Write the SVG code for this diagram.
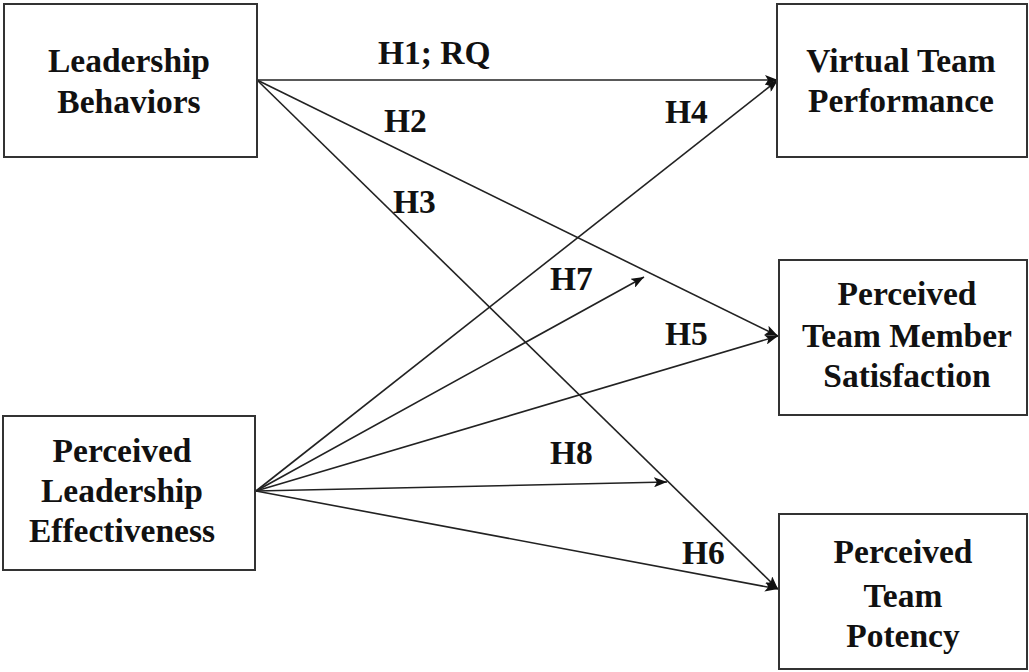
<svg xmlns="http://www.w3.org/2000/svg" width="1029" height="672" viewBox="0 0 1029 672">
<defs>
<style>
.box{fill:#fff;stroke:#333;stroke-width:2}
.t{font-family:"Liberation Serif","Times New Roman",serif;font-weight:bold;font-size:33.5px;fill:#111}
.c{text-anchor:middle}
.ln{stroke:#222;stroke-width:1.6;fill:none;marker-end:url(#ah)}
</style>
<marker id="ah" markerUnits="userSpaceOnUse" markerWidth="14" markerHeight="10" refX="13" refY="5" orient="auto">
<path d="M0,0 L13,5 L0,10 L3,5 Z" fill="#111"/>
</marker>
</defs>
<rect width="1029" height="672" fill="#fff"/>
<g id="connectors">
<line class="ln" x1="257" y1="80" x2="778" y2="80"/>
<line class="ln" x1="257" y1="80" x2="778" y2="336"/>
<line class="ln" x1="257" y1="80" x2="778" y2="589"/>
<line class="ln" x1="256" y1="491" x2="778" y2="80"/>
<line class="ln" x1="256" y1="491" x2="644" y2="277"/>
<line class="ln" x1="256" y1="491" x2="778" y2="336"/>
<line class="ln" x1="256" y1="491" x2="667" y2="482"/>
<line class="ln" x1="256" y1="491" x2="778" y2="589"/>
<text class="t" x="378" y="64">H1; RQ</text>
<text class="t" x="384" y="132">H2</text>
<text class="t" x="393" y="213">H3</text>
<text class="t" x="665" y="123">H4</text>
<text class="t" x="665" y="345">H5</text>
<text class="t" x="682" y="564">H6</text>
<text class="t" x="550" y="290">H7</text>
<text class="t" x="550" y="464">H8</text>
</g>
<g id="leadership-behaviors">
<rect class="box" x="4" y="4" width="253" height="153"/>
<text class="t c" x="129" y="72">Leadership</text>
<text class="t c" x="129" y="113">Behaviors</text>
</g>
<g id="virtual-team-performance">
<rect class="box" x="777" y="4" width="250" height="153"/>
<text class="t c" x="901" y="72">Virtual Team</text>
<text class="t c" x="901" y="112">Performance</text>
</g>
<g id="team-member-satisfaction">
<rect class="box" x="779" y="260" width="248" height="155"/>
<text class="t c" x="907" y="305">Perceived</text>
<text class="t c" x="907" y="347">Team Member</text>
<text class="t c" x="907" y="387">Satisfaction</text>
</g>
<g id="team-potency">
<rect class="box" x="779" y="514" width="248" height="155"/>
<text class="t c" x="903" y="563">Perceived</text>
<text class="t c" x="903" y="607">Team</text>
<text class="t c" x="903" y="647">Potency</text>
</g>
<g id="leadership-effectiveness">
<rect class="box" x="3" y="416" width="252" height="154"/>
<text class="t c" x="122" y="462">Perceived</text>
<text class="t c" x="122" y="502">Leadership</text>
<text class="t c" x="122" y="542">Effectiveness</text>
</g>
</svg>
